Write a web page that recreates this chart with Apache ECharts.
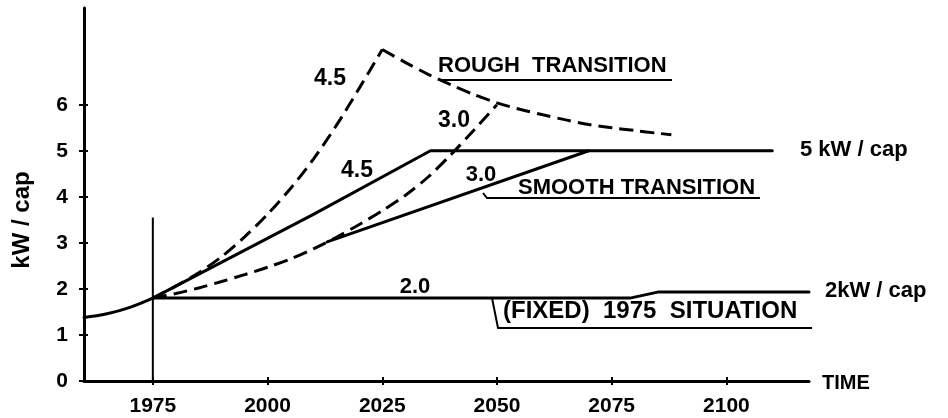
<!DOCTYPE html>
<html>
<head>
<meta charset="utf-8">
<script src="https://cdn.jsdelivr.net/npm/echarts@6/dist/echarts.min.js"></script>
<style>
html,body{margin:0;padding:0;background:#fff;}
#chart{width:948px;height:418px;}
</style>
</head>
<body>
<div id="chart"></div>
<script>
// ---- data (year, kW/cap) ----
const xTicks = [1975, 2000, 2025, 2050, 2075, 2100];
const yTicks = [0, 1, 2, 3, 4, 5, 6];
const history = [[1960,1.38],[1965,1.46],[1970,1.6],[1975,1.8]];
const roughHighUp = [[1975,1.8],[1980,2.06],[1985,2.35],[1990,2.7],[1995,3.13],[2000,3.62],[2005,4.18],[2010,4.82],[2015,5.55],[2020,6.36],[2025,7.2]];
const roughHighDown = [[2025,7.2],[2030,6.92],[2035,6.66],[2040,6.43],[2045,6.22],[2050,6.04],[2055,5.9],[2060,5.78],[2065,5.67],[2070,5.57],[2075,5.5],[2080,5.44],[2085,5.38],[2088,5.35]];
const roughLow = [[1975,1.8],[1980,1.9],[1985,2.02],[1990,2.16],[1995,2.31],[2000,2.47],[2005,2.65],[2010,2.87],[2015,3.12],[2020,3.4],[2025,3.7],[2030,4.03],[2035,4.43],[2040,4.92],[2045,5.45],[2050,6.0]];
const smoothHigh = [[1975,1.8],[2010,3.62],[2035.5,5.0],[2110,5.0]];
const smoothLow = [[2013,3.02],[2070,5.0]];
const fixed1975 = [[1975,1.8],[2079,1.8],[2085,1.93],[2118,1.93]];
const marker1975 = [[1975,0],[1975,3.55]];

const FONT = '"Liberation Sans", Arial, sans-serif';
const chart = echarts.init(document.getElementById('chart'), null, {renderer:'canvas'});

function lineSeries(data, opts) {
  return Object.assign({
    type: 'line', data: data, symbol: 'none', silent: true, animation: false,
    lineStyle: {color: '#000', width: 3, type: 'solid', cap: 'round', join: 'round'}
  }, opts);
}
const dashed = {color: '#000', width: 3, type: [14, 7]};

function txt(text, x, y, size, align) {
  return {type: 'text', x: x, y: y, silent: true,
    style: {text: text, fill: '#000', font: 'bold ' + size + 'px ' + FONT,
      textAlign: align || 'center', textVerticalAlign: 'middle'}};
}
function poly(points, w) {
  return {type: 'polyline', silent: true, shape: {points: points},
    style: {stroke: '#000', lineWidth: w || 2, fill: null}};
}

const option = {
  backgroundColor: '#fff',
  animation: false,
  grid: {left: 84, right: 139, top: 8, bottom: 37},
  xAxis: [{
    type: 'value', min: 1960, max: 2118,
    axisLine: {show: true, onZero: false, lineStyle: {color: '#000', width: 3}},
    axisTick: {show: true, customValues: xTicks, length: 4, lineStyle: {color: '#000', width: 2}},
    axisLabel: {customValues: xTicks, margin: 15, color: '#000', fontFamily: FONT, fontWeight: 'bold', fontSize: 21,
      formatter: function (v) { return String(v); }},
    splitLine: {show: false}
  }, {
    type: 'value', min: 1960, max: 2118, position: 'bottom',
    axisLine: {show: false},
    axisTick: {show: true, inside: true, customValues: xTicks, length: 4, lineStyle: {color: '#000', width: 2}},
    axisLabel: {show: false}, splitLine: {show: false}
  }],
  yAxis: [{
    type: 'value', min: 0, max: 8.1,
    axisLine: {show: true, onZero: false, lineStyle: {color: '#000', width: 3}},
    axisTick: {show: true, customValues: yTicks, length: 5, lineStyle: {color: '#000', width: 2}},
    axisLabel: {customValues: yTicks, margin: 16, color: '#000', fontFamily: FONT, fontWeight: 'bold', fontSize: 21,
      formatter: function (v) { return String(v); }},
    splitLine: {show: false}
  }, {
    type: 'value', min: 0, max: 8.1, position: 'left',
    axisLine: {show: false},
    axisTick: {show: true, inside: true, customValues: yTicks, length: 4, lineStyle: {color: '#000', width: 2}},
    axisLabel: {show: false}, splitLine: {show: false}
  }],
  series: [
    lineSeries(history, {name: 'history', smooth: 0.4}),
    lineSeries(marker1975, {name: '1975', lineStyle: {color: '#000', width: 2}}),
    lineSeries(fixed1975, {name: 'fixed 1975'}),
    lineSeries(smoothHigh, {name: 'smooth 4.5'}),
    lineSeries(smoothLow, {name: 'smooth 3.0'}),
    lineSeries(roughHighUp, {name: 'rough 4.5 up', smooth: 0.3, lineStyle: dashed}),
    lineSeries(roughHighDown, {name: 'rough 4.5 down', smooth: 0.3, lineStyle: dashed}),
    lineSeries(roughLow, {name: 'rough 3.0', smooth: 0.3, lineStyle: dashed})
  ],
  graphic: [
    Object.assign(txt('kW / cap', 22, 220, 24), {rotation: Math.PI / 2}),
    txt('4.5', 330, 79, 23),
    txt('3.0', 454, 121, 23),
    txt('4.5', 357, 171, 23),
    txt('3.0', 481, 175, 22),
    txt('2.0', 415, 287, 22),
    txt('ROUGH  TRANSITION', 438, 66, 22, 'left'),
    poly([[438, 80], [672, 80]]),
    txt('SMOOTH TRANSITION', 518, 188, 22, 'left'),
    poly([[483, 193], [487, 198], [760, 198]]),
    txt('(FIXED)  1975  SITUATION', 503, 311, 24, 'left'),
    poly([[492, 298], [498, 328], [812, 328]]),
    txt('5 kW / cap', 800, 150, 22, 'left'),
    txt('2kW / cap', 825, 291, 22, 'left'),
    txt('TIME', 822, 383, 20, 'left')
  ]
};
chart.setOption(option);
</script>
</body>
</html>
